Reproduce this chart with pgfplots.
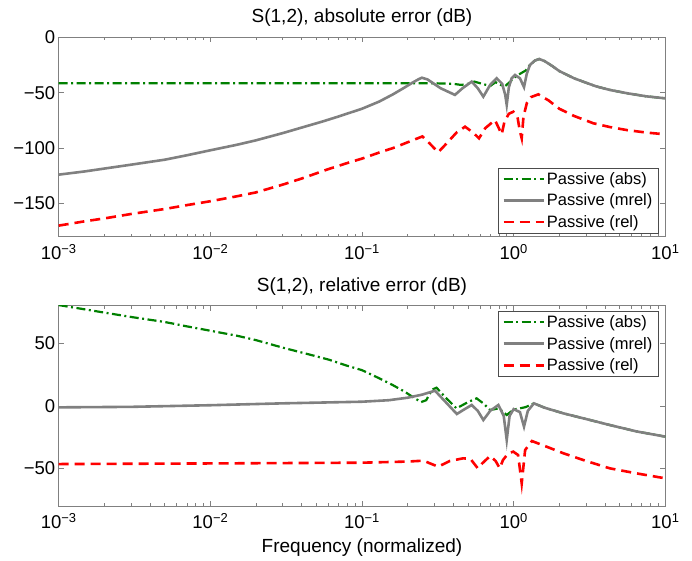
\documentclass[border=0pt]{standalone}
\usepackage{fontspec}
\setmainfont{Liberation Sans}
\usepackage{pgfplots}
\pgfplotsset{compat=1.18}
\usepackage{pgfplotstable}

\definecolor{mgreen}{rgb}{0,0.5,0}
\definecolor{mgray}{rgb}{0.5,0.5,0.5}

% top: absolute error
\pgfplotstableread{
f val
1e-3 -41.5
0.1 -41.5
0.3 -41.5
0.4 -42
0.45 -43
0.5 -42
0.55 -40
0.62 -42
0.7 -44
0.76 -40.5
0.82 -43
0.88 -44
0.95 -40
1.0 -37
1.05 -34.5
1.1 -33
1.2 -30
1.28 -25
1.38 -21
1.476 -19.6
1.6 -21.5
1.8 -26
2.0 -30.5
2.5 -37
3.0 -41
3.5 -44.3
4.3 -47.5
5.7 -50.7
7.5 -53.3
10 -55.1
}\topabs

\pgfplotstableread{
f val
1e-3 -124
1.5e-3 -121
2e-3 -118.5
3e-3 -115
5e-3 -110.5
7e-3 -106.5
1e-2 -102
1.5e-2 -97
2e-2 -93
3e-2 -86.5
4e-2 -81.5
5.5e-2 -76
7e-2 -71.5
0.1 -64.5
0.13 -58
0.16 -51.5
0.19 -45.5
0.215 -41
0.235 -38
0.248 -36.5
0.27 -38
0.33 -46
0.41 -52
0.46 -46
0.529 -40
0.58 -46
0.631 -53.6
0.7 -43
0.773 -37
0.84 -42
0.88 -52
0.9 -61
0.93 -45
0.97 -37
1.02 -34
1.1 -37
1.17 -45
1.22 -33
1.28 -25
1.38 -21
1.476 -19.6
1.6 -21.5
1.8 -26
2.0 -30.5
2.5 -37
3.0 -41
3.5 -44.3
4.3 -47.5
5.7 -50.7
7.5 -53.3
10 -55.1
}\topmrel

\pgfplotstableread{
f val
1e-3 -170
1.5e-3 -166
2e-3 -163.5
3e-3 -159.5
5e-3 -155
7e-3 -151.5
1e-2 -148
1.5e-2 -143.5
2e-2 -140
3e-2 -133
4e-2 -127.5
6e-2 -119
8e-2 -113.5
0.1 -109.5
0.13 -104
0.16 -100
0.19 -96
0.22 -92.5
0.25 -89.5
0.28 -96
0.318 -103.8
0.36 -96
0.42 -86
0.478 -80.7
0.54 -86
0.591 -91.2
0.65 -82
0.753 -74.7
0.834 -87.6
0.87 -76
0.93 -69
0.995 -67.2
1.06 -72
1.1 -85
1.13 -91.2
1.16 -72
1.22 -59.6
1.3 -54
1.455 -51.5
1.7 -57
2.0 -64.5
2.5 -71
3.35 -77.6
4.3 -81
5.6 -83.8
7.5 -86
10 -87.6
}\toprel

% bottom: relative error
\pgfplotstableread{
f val
1e-3 80.5
1.5e-3 77
2e-3 74.5
3e-3 71
5e-3 67
7e-3 63.5
1e-2 60
1.5e-2 56
2e-2 52.5
3e-2 46.5
4.5e-2 41
6e-2 37
8e-2 32
0.1 28.5
0.13 22
0.16 16.5
0.19 11.5
0.22 6.5
0.245 3
0.265 4.5
0.29 13
0.31 14.5
0.36 6
0.42 -2
0.5 3
0.57 6
0.63 2
0.7 -3.3
0.8 -2
0.9 -7.3
1.0 -3
1.1 -2
1.2 -1
1.36 2
1.6 -1.5
2.13 -6
3 -10.5
4.3 -15.3
6.5 -20.5
10 -24.6
}\botabs

\pgfplotstableread{
f val
1e-3 -1.2
3e-3 -0.8
1e-2 0.5
3e-2 2
0.1 3.3
0.15 4.5
0.2 6.5
0.25 9
0.303 12.1
0.35 4
0.422 -6.5
0.47 -3
0.529 0.7
0.58 -4
0.631 -11.3
0.7 -4
0.793 0.7
0.86 -8
0.9 -27.3
0.94 -8
1.0 -2.6
1.1 -5
1.17 -16.6
1.24 -4
1.36 2
1.6 -1.5
2.13 -6
3 -10.5
4.3 -15.3
6.5 -20.5
10 -24.6
}\botmrel

\pgfplotstableread{
f val
1e-3 -46.5
1e-2 -46
0.1 -45.4
0.2 -44.5
0.254 -43.8
0.318 -48.6
0.38 -44
0.466 -41.9
0.52 -42.5
0.58 -49.9
0.62 -46
0.7 -40
0.76 -44
0.81 -49.9
0.85 -43.3
0.92 -38
0.995 -36.6
1.07 -39.3
1.13 -61.9
1.19 -35.3
1.32 -28.1
1.6 -32
2.13 -37.9
3 -44
4.3 -49.9
6.5 -54
10 -57.9
}\botrel

\pgfplotsset{
  erraxis/.style={
    scale only axis,
    width=606.6pt, height=199.4pt,
    xmin=1e-3, xmax=10,
    xtick={1e-3,1e-2,1e-1,1,10},
    xticklabels={10\textsuperscript{−3},10\textsuperscript{−2},10\textsuperscript{−1},10\textsuperscript{0},10\textsuperscript{1}},
    minor xtick={2e-3,3e-3,4e-3,5e-3,6e-3,7e-3,8e-3,9e-3,
                 2e-2,3e-2,4e-2,5e-2,6e-2,7e-2,8e-2,9e-2,
                 0.2,0.3,0.4,0.5,0.6,0.7,0.8,0.9,
                 2,3,4,5,6,7,8,9},
    tick align=inside, tick pos=both,
    major tick length=5pt, minor tick length=3pt,
    axis line style={mgray, line width=0.8pt},
    every tick/.style={mgray, line width=0.7pt},
    tick label style={font=\fontsize{18.5}{21}\selectfont},
    xticklabel style={yshift=-4pt},
    title style={font=\fontsize{19}{22}\selectfont, at={(0.5,1)}, anchor=base, yshift=9pt},
    legend cell align=left,
    legend style={font=\fontsize{16.5}{19}\selectfont, draw=black!70, line width=0.8pt,
      inner xsep=4pt, inner ysep=2.5pt, row sep=4pt},
  },
  absline/.style={mgreen, line width=2.2pt, dash pattern=on 9pt off 3.5pt on 2pt off 3.5pt},
  mrelline/.style={mgray, line width=2.6pt},
  relline/.style={red, line width=2.6pt, dash pattern=on 10pt off 6pt},
}

\begin{document}
\begin{tikzpicture}
\path[use as bounding box] (0,0) rectangle (692pt,561pt);

\begin{semilogxaxis}[erraxis,
  at={(58.7pt,324.3pt)}, anchor=south west,
  ymin=-180, ymax=0,
  ytick={-150,-100,-50,0},
  yticklabels={−150,−100,−50,0},
  title={S(1,2), absolute error (dB)},
  legend image code/.code={\draw[#1] (0pt,0pt) -- (40pt,0pt);},
  legend style={at={(1,0)}, anchor=south east, xshift=-6.5pt, yshift=3pt},
]
\addplot[absline] table[x=f,y=val] {\topabs};
\addplot[mrelline] table[x=f,y=val] {\topmrel};
\addplot[relline] table[x=f,y=val] {\toprel};
\legend{Passive (abs),Passive (mrel),Passive (rel)}
\end{semilogxaxis}

\begin{semilogxaxis}[erraxis,
  at={(58.7pt,55pt)}, anchor=south west,
  height=200.3pt,
  ymin=-80, ymax=80,
  ytick={-50,0,50},
  yticklabels={−50,0,50},
  title={S(1,2), relative error (dB)},
  title style={yshift=-1pt},
  xlabel={Frequency (normalized)},
  xlabel style={font=\fontsize{19}{22}\selectfont, at={(0.5,0)}, anchor=base, yshift=-46pt},
  legend image code/.code={\draw[#1] (0pt,0pt) -- (40pt,0pt);},
  legend style={at={(1,1)}, anchor=north east, xshift=-6.5pt, yshift=-5pt},
]
\addplot[absline] table[x=f,y=val] {\botabs};
\addplot[mrelline] table[x=f,y=val] {\botmrel};
\addplot[relline] table[x=f,y=val] {\botrel};
\legend{Passive (abs),Passive (mrel),Passive (rel)}
\end{semilogxaxis}
\end{tikzpicture}
\end{document}
